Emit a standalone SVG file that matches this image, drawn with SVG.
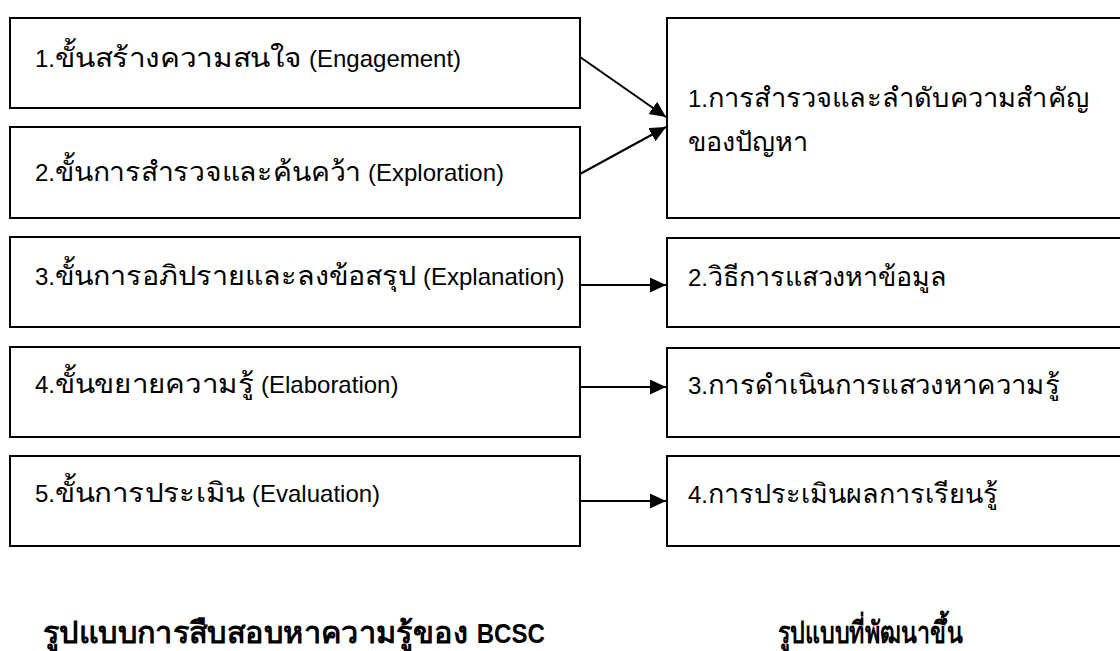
<svg xmlns="http://www.w3.org/2000/svg" width="1120" height="651" viewBox="0 0 1120 651">
  <style>
    .box { fill: #ffffff; stroke: #000000; stroke-width: 2; }
    .t { font-family: "Liberation Sans", "Noto Sans", "DejaVu Sans", sans-serif; font-size: 24px; fill: #000000; }
    .th { font-size: 27px; }
    .title { font-family: "Liberation Sans", "Noto Sans", "DejaVu Sans", sans-serif; font-size: 30px; font-weight: bold; fill: #000000; }
    .tl { font-size: 28px; }
    .conn { stroke: #000000; stroke-width: 2; fill: none; }
  </style>
  <defs>
    <marker id="arrow" markerUnits="userSpaceOnUse" markerWidth="17" markerHeight="16" refX="16" refY="7.5" orient="auto">
      <path d="M0,0 L16,7.5 L0,15 Z" fill="#000000"/>
    </marker>
  </defs>
  <rect width="1120" height="651" fill="#ffffff"/>

  <g id="left1">
    <rect class="box" x="10" y="18" width="570" height="90"/>
    <text class="t" x="35" y="67">1.<tspan class="th" x="55" textLength="247" lengthAdjust="spacingAndGlyphs">ขั้นสร้างความสนใจ</tspan> <tspan x="309">(Engagement)</tspan></text>
  </g>
  <g id="left2">
    <rect class="box" x="10" y="127" width="570" height="91"/>
    <text class="t" x="35" y="181">2.<tspan class="th" x="55" textLength="306" lengthAdjust="spacingAndGlyphs">ขั้นการสำรวจและค้นคว้า</tspan> <tspan x="368">(Exploration)</tspan></text>
  </g>
  <g id="left3">
    <rect class="box" x="10" y="237" width="570" height="90"/>
    <text class="t" x="35" y="285">3.<tspan class="th" x="55" textLength="361" lengthAdjust="spacingAndGlyphs">ขั้นการอภิปรายและลงข้อสรุป</tspan> <tspan x="423">(Explanation)</tspan></text>
  </g>
  <g id="left4">
    <rect class="box" x="10" y="347" width="570" height="90"/>
    <text class="t" x="35" y="393">4.<tspan class="th" x="55" textLength="199" lengthAdjust="spacingAndGlyphs">ขั้นขยายความรู้</tspan> <tspan x="261">(Elaboration)</tspan></text>
  </g>
  <g id="left5">
    <rect class="box" x="10" y="456" width="570" height="90"/>
    <text class="t" x="35" y="502">5.<tspan class="th" x="55" textLength="190" lengthAdjust="spacingAndGlyphs">ขั้นการประเมิน</tspan> <tspan x="252">(Evaluation)</tspan></text>
  </g>

  <g id="right1">
    <rect class="box" x="667" y="18" width="460" height="200"/>
    <text class="t" x="688" y="107">1.<tspan class="th" x="708" textLength="381" lengthAdjust="spacingAndGlyphs">การสำรวจและลำดับความสำคัญ</tspan></text>
    <text class="t" x="688" y="151"><tspan class="th" textLength="120" lengthAdjust="spacingAndGlyphs">ของปัญหา</tspan></text>
  </g>
  <g id="right2">
    <rect class="box" x="667" y="238" width="460" height="89"/>
    <text class="t" x="688" y="286">2.<tspan class="th" x="708" textLength="239" lengthAdjust="spacingAndGlyphs">วิธีการแสวงหาข้อมูล</tspan></text>
  </g>
  <g id="right3">
    <rect class="box" x="667" y="348" width="460" height="89"/>
    <text class="t" x="688" y="394">3.<tspan class="th" x="708" textLength="352" lengthAdjust="spacingAndGlyphs">การดำเนินการแสวงหาความรู้</tspan></text>
  </g>
  <g id="right4">
    <rect class="box" x="667" y="456" width="460" height="90"/>
    <text class="t" x="688" y="503">4.<tspan class="th" x="708" textLength="290" lengthAdjust="spacingAndGlyphs">การประเมินผลการเรียนรู้</tspan></text>
  </g>

  <g id="connectors">
    <line class="conn" x1="580" y1="57" x2="666" y2="117" marker-end="url(#arrow)"/>
    <line class="conn" x1="580" y1="174" x2="666" y2="127" marker-end="url(#arrow)"/>
    <line class="conn" x1="580" y1="285" x2="666" y2="285" marker-end="url(#arrow)"/>
    <line class="conn" x1="580" y1="387" x2="666" y2="387" marker-end="url(#arrow)"/>
    <line class="conn" x1="580" y1="501" x2="666" y2="501" marker-end="url(#arrow)"/>
  </g>

  <g id="titles">
    <text class="title" x="43" y="643"><tspan textLength="425" lengthAdjust="spacingAndGlyphs">รูปแบบการสืบสอบหาความรู้ของ</tspan><tspan class="tl" x="470" textLength="75" lengthAdjust="spacingAndGlyphs"> BCSC</tspan></text>
    <text class="title" x="778" y="643"><tspan textLength="185" lengthAdjust="spacingAndGlyphs">รูปแบบที่พัฒนาขึ้น</tspan></text>
  </g>
</svg>
